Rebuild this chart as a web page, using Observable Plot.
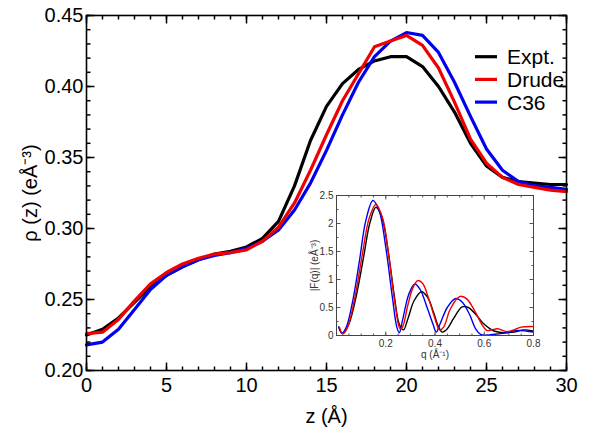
<!DOCTYPE html>
<html><head><meta charset="utf-8">
<script src="https://cdn.jsdelivr.net/npm/d3@7"></script>
<script src="https://cdn.jsdelivr.net/npm/@observablehq/plot@0.6"></script>
<style>
body{margin:0;background:#fff;}
#wrap{position:relative;width:604px;height:431px;font-family:"Liberation Sans",Arial,sans-serif;}
#wrap > svg{position:absolute;overflow:visible;}
</style></head><body><div id="wrap"></div>
<script>
// ---- main panel data: electron density profile rho(z)
const z = [0,1,2,3,4,5,6,7,8,9,10,11,12,13,14,15,16,17,18,19,20,21,22,23,24,25,26,27,28,29,30];
const rhoExpt  = [0.225,0.229,0.237,0.248,0.259,0.267,0.273,0.278,0.282,0.284,0.287,0.293,0.305,0.330,0.362,0.386,0.402,0.412,0.418,0.421,0.421,0.414,0.400,0.382,0.360,0.344,0.336,0.333,0.332,0.331,0.331];
const rhoDrude = [0.226,0.227,0.236,0.249,0.261,0.269,0.275,0.279,0.282,0.283,0.285,0.291,0.301,0.318,0.341,0.366,0.390,0.409,0.428,0.432,0.436,0.429,0.413,0.389,0.363,0.346,0.336,0.331,0.329,0.327,0.326];
const rhoC36   = [0.218,0.220,0.229,0.243,0.257,0.267,0.273,0.278,0.281,0.283,0.286,0.291,0.299,0.313,0.332,0.355,0.380,0.403,0.421,0.432,0.438,0.436,0.424,0.403,0.379,0.356,0.341,0.333,0.330,0.329,0.3275];

// ---- inset data: form factor |F(q)|
const qExpt  = [0.009,0.025,0.05,0.08,0.11,0.135,0.16,0.185,0.21,0.235,0.255,0.272,0.29,0.315,0.345,0.37,0.395,0.415,0.43,0.45,0.475,0.51,0.535,0.565,0.6,0.64,0.68,0.72,0.76,0.8];
const fExpt  = [0.15,0.03,0.2,0.7,1.4,2.0,2.29,2.1,1.5,0.7,0.2,0.1,0.3,0.62,0.78,0.68,0.4,0.15,0.06,0.12,0.3,0.51,0.5,0.38,0.2,0.08,0.05,0.06,0.1,0.08];
const qDrude = [0.012,0.025,0.045,0.072,0.105,0.133,0.16,0.187,0.213,0.24,0.258,0.268,0.29,0.31,0.33,0.35,0.375,0.4,0.418,0.435,0.46,0.49,0.505,0.53,0.56,0.59,0.61,0.63,0.655,0.69,0.72,0.75,0.8];
const fDrude = [0.15,0.03,0.15,0.62,1.45,2.1,2.34,2.1,1.4,0.5,0.12,0.15,0.55,0.85,0.98,0.93,0.65,0.3,0.1,0.15,0.45,0.66,0.7,0.65,0.45,0.2,0.09,0.1,0.12,0.07,0.1,0.15,0.16];
const qC36   = [0.009,0.022,0.04,0.066,0.093,0.119,0.148,0.173,0.2,0.227,0.245,0.255,0.268,0.294,0.318,0.34,0.368,0.392,0.405,0.42,0.45,0.484,0.51,0.54,0.565,0.585,0.62,0.66,0.7,0.735,0.77,0.8];
const fC36   = [0.15,0.04,0.15,0.62,1.33,2.05,2.41,2.23,1.58,0.68,0.15,0.05,0.27,0.74,0.92,0.82,0.5,0.2,0.06,0.2,0.5,0.66,0.6,0.38,0.12,0.02,0.01,0.03,0.06,0.09,0.08,0.06];

const seriesNames  = ["Expt.", "Drude", "C36"];
const seriesColors = ["#000000", "#f00000", "#0000f0"];

// tick values
const xMajor = [0,5,10,15,20,25,30];
const xMinor = d3.range(0, 31, 1);
const yMajor = [0.20,0.25,0.30,0.35,0.40,0.45];
const yMinor = d3.range(0, 26).map(i => +(0.20 + i*0.01).toFixed(2));
const qMajor = [0,0.2,0.4,0.6,0.8];
const qMinor = d3.range(0, 17).map(i => +(i*0.05).toFixed(2));
const fMajor = [0,0.5,1,1.5,2,2.5];
const fMinor = d3.range(0, 11).map(i => i*0.25);

const font = "Liberation Sans, Arial, Helvetica, sans-serif";
const wrap = document.getElementById("wrap");

// inward tick segments on all four sides, as link paths; lengths converted from pixels to data units
function tickSegments(xDom, yDom, frameW, frameH, xs, ys, major, minor) {
  const px = (xDom[1] - xDom[0]) / frameW, py = (yDom[1] - yDom[0]) / frameH;
  const segs = [];
  for (const [vals, len] of [[xs.minor, minor], [xs.major, major]]) for (const v of vals) {
    segs.push({x1: v, x2: v, y1: yDom[0], y2: yDom[0] + len * py});
    segs.push({x1: v, x2: v, y1: yDom[1], y2: yDom[1] - len * py});
  }
  for (const [vals, len] of [[ys.minor, minor], [ys.major, major]]) for (const v of vals) {
    segs.push({y1: v, y2: v, x1: xDom[0], x2: xDom[0] + len * px});
    segs.push({y1: v, y2: v, x1: xDom[1], x2: xDom[1] - len * px});
  }
  return segs;
}
function place(svg, left, top) {
  svg.style.position = "absolute";
  svg.style.left = left + "px"; svg.style.top = top + "px";
  wrap.appendChild(svg);
}

const mainRows = (vals, name) => z.map((zz, i) => ({z: zz, v: vals[i], s: name}));
const drawOrder = [[rhoExpt, 0], [rhoC36, 2], [rhoDrude, 1]];

const M = {W: 604, H: 431, l: 86, r: 38, t: 15, b: 61};
const xDomMain = [0, 30], yDomMain = [0.20, 0.45];
const mainTickSegs = tickSegments(xDomMain, yDomMain, M.W - M.l - M.r, M.H - M.t - M.b,
  {major: xMajor, minor: xMinor}, {major: yMajor, minor: yMinor}, 8, 4);

const main = Plot.plot({
  width: M.W, height: M.H,
  marginLeft: M.l, marginRight: M.r, marginTop: M.t, marginBottom: M.b,
  style: {fontFamily: font, fontSize: "20px", background: "transparent", color: "black"},
  x: {domain: xDomMain},
  y: {domain: yDomMain},
  marks: [
    Plot.axisX(xMajor, {anchor: "bottom", tickSize: 0, tickPadding: 7, fontSize: 20, label: "z (Å)", labelArrow: "none", labelAnchor: "center", labelOffset: 52}),
    Plot.axisY(yMajor, {anchor: "left", tickSize: 0, tickPadding: 3, fontSize: 20, tickFormat: d3.format(".2f"), label: "ρ (z) (eÅ⁻³)", labelArrow: "none", labelAnchor: "center", labelOffset: 64}),
    ...drawOrder.map(([vals, k]) => Plot.line(mainRows(vals, seriesNames[k]), {x: "z", y: "v", stroke: seriesColors[k], strokeWidth: 3.2, strokeLinejoin: "round"})),
    Plot.link(mainTickSegs, {x1: "x1", y1: "y1", x2: "x2", y2: "y2", stroke: "black", strokeWidth: 1.5}),
    Plot.frame({stroke: "black", strokeWidth: 1.6})
  ]
});
place(main, 0, 0);

// ---- inset
const I = {W: 232, H: 169, l: 30, r: 5, t: 5, b: 24};
const xDomIn = [0, 0.8], yDomIn = [0, 2.5];
const insetTickSegs = tickSegments(xDomIn, yDomIn, I.W - I.l - I.r, I.H - I.t - I.b,
  {major: qMajor, minor: qMinor}, {major: fMajor, minor: fMinor}, 4, 2);
const insetSets = [[qExpt, fExpt, 0], [qC36, fC36, 2], [qDrude, fDrude, 1]];
const inset = Plot.plot({
  width: I.W, height: I.H,
  marginLeft: I.l, marginRight: I.r, marginTop: I.t, marginBottom: I.b,
  style: {fontFamily: font, fontSize: "10px", background: "transparent", color: "#333"},
  x: {domain: xDomIn},
  y: {domain: yDomIn},
  marks: [
    Plot.frame({fill: "white", stroke: "none"}),
    Plot.axisX(qMajor.filter(d => d > 0), {anchor: "bottom", tickSize: 0, tickPadding: 4, fill: "#333", fontSize: 10, label: "q (Å⁻¹)", labelArrow: "none", labelAnchor: "center", labelOffset: 22}),
    Plot.axisY(fMajor, {anchor: "left", tickSize: 0, tickPadding: 3, fill: "#333", fontSize: 10, tickFormat: d => String(d), label: "|F(q)| (eÅ⁻³)", labelArrow: "none", labelAnchor: "center", labelOffset: 26}),
    ...insetSets.map(([qs, fs, k]) => Plot.line(qs.map((q, i) => ({q, f: fs[i]})), {x: "q", y: "f", stroke: seriesColors[k], strokeWidth: 1.4, curve: "catmull-rom", clip: true})),
    Plot.link(insetTickSegs, {x1: "x1", y1: "y1", x2: "x2", y2: "y2", stroke: "#555", strokeWidth: 1}),
    Plot.frame({stroke: "#444", strokeWidth: 1})
  ]
});
place(inset, 336 - I.l, 195 - I.t);

// ---- legend
const legend = d3.create("svg").attr("width", 110).attr("height", 80)
  .attr("font-family", font).attr("font-size", 21);
seriesNames.forEach((name, i) => {
  const g = legend.append("g").attr("transform", `translate(0,${12.7 + i*22.7})`);
  g.append("line").attr("x1", 5).attr("x2", 27).attr("y1", 0).attr("y2", 0)
    .attr("stroke", seriesColors[i]).attr("stroke-width", 3.2);
  g.append("text").attr("x", 37).attr("y", 7.5).attr("fill", "black").text(name);
});
place(legend.node(), 470, 44);
</script>
</body></html>
